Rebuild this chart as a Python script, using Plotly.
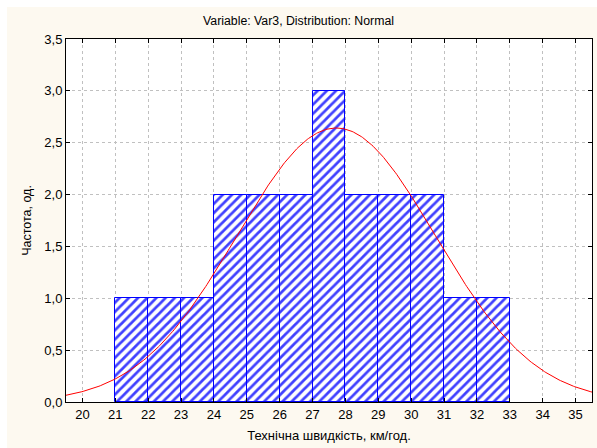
import plotly.graph_objects as go
import numpy as np

# Data
bin_left = [21, 22, 23, 24, 25, 26, 27, 28, 29, 30, 31, 32]
counts = [1, 1, 1, 2, 2, 2, 3, 2, 2, 2, 1, 1]
bin_width = 1.0
fit_mean = 27.72
fit_sd = 3.02
n_obs = sum(counts)
x_ticks = list(range(20, 36))
y_ticks = [0, 0.5, 1.0, 1.5, 2.0, 2.5, 3.0, 3.5]

xs = np.linspace(19.5, 35.5, 400)
ys = n_obs * bin_width / (fit_sd * np.sqrt(2 * np.pi)) * np.exp(-0.5 * ((xs - fit_mean) / fit_sd) ** 2)

fig = go.Figure()
fig.add_trace(go.Bar(
    x=bin_left, y=counts, width=bin_width, offset=0,
    marker=dict(color="white",
                line=dict(color="#0000ff", width=1),
                pattern=dict(shape="/", fgcolor="#4040ff", fgopacity=1, bgcolor="white",
                             size=6.5, solidity=0.42, fillmode="replace")),
    showlegend=False,
))
fig.add_trace(go.Scatter(x=xs, y=ys, mode="lines", line=dict(color="#ff0000", width=1), showlegend=False))

font = "Liberation Sans, Arial, sans-serif"
L, R, T, B = 66, 5, 39, 46
W, H = 597, 448
pw, ph = W - L - R, H - T - B

fig.update_layout(
    width=W, height=H,
    margin=dict(l=L, r=R, t=T, b=B),
    paper_bgcolor="white",
    plot_bgcolor="white",
    separators=", ",
    bargap=0,
    font=dict(family=font, color="black", size=12),
    title=dict(text="Variable: Var3, Distribution: Normal", x=0.5, xref="container", xanchor="center",
               y=1 - 21 / H, yanchor="middle", font=dict(size=12.3)),
    xaxis=dict(range=[19.5, 35.5], tickvals=x_ticks, ticks="inside", ticklen=4, tickcolor="black",
               showline=True, linecolor="black", linewidth=1, mirror="ticks",
               showgrid=True, gridcolor="#c0c0c0", griddash="3px,3px", gridwidth=1,
               zeroline=False, tickfont=dict(size=13),
               title=dict(text="Технічна швидкість, км/год.", font=dict(size=13), standoff=10)),
    yaxis=dict(range=[0, 3.5], tickvals=y_ticks, tickformat=".1f", ticks="inside", ticklen=4, tickcolor="black",
               showline=True, linecolor="black", linewidth=1, mirror="ticks",
               showgrid=True, gridcolor="#c0c0c0", griddash="3px,3px", gridwidth=1,
               zeroline=False, tickfont=dict(size=13),
               title=dict(text="Частота, од.", font=dict(size=12.5), standoff=9)),
    shapes=[
        dict(type="rect", xref="paper", yref="paper", layer="below",
             x0=(7 - L) / pw, x1=(W - L) / pw, y0=-B / ph, y1=(H - B - 7) / ph,
             fillcolor="#fdf9f0", line=dict(width=0)),
        dict(type="rect", xref="paper", yref="paper", layer="below",
             x0=0, x1=1, y0=0, y1=1, fillcolor="white", line=dict(width=0)),
    ],
)

fig.write_html("out.html")
